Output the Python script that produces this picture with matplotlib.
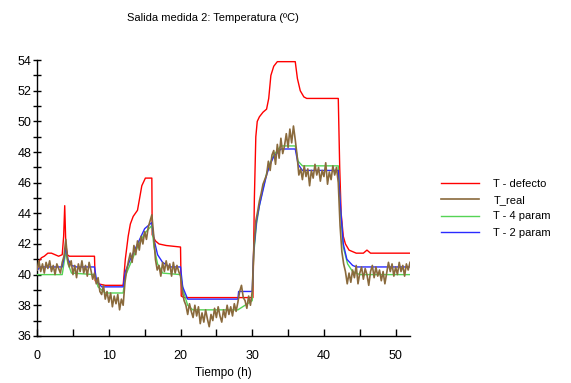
import matplotlib.pyplot as plt
import numpy as np

plt.rcParams['font.family'] = ['Liberation Sans', 'DejaVu Sans']

# T - defecto (red), knots
t_def = [0, 0.3, 0.6, 1.0, 1.5, 2.0, 2.5, 3.0, 3.5, 3.7, 3.85, 4.0, 4.2, 4.5,
         8.0, 8.1, 8.5, 9.5, 12.0, 12.3, 12.7, 13.0, 13.4, 14.0, 14.3, 14.6,
         15.1, 16.0, 16.05, 16.5, 17.0, 18.0, 20.0, 20.1, 20.5, 21.0, 30.1,
         30.3, 30.5, 30.7, 31.0, 31.5, 32.0, 32.3, 32.6, 33.0, 33.5, 36.0,
         36.3, 36.7, 37.2, 37.6, 42.0, 42.2, 42.4, 42.7, 43.0, 43.5, 44.5,
         45.5, 46.0, 46.5, 52.0]
v_def = [40.3, 40.9, 41.1, 41.2, 41.4, 41.4, 41.3, 41.2, 41.3, 42.5, 44.5,
         42.0, 41.3, 41.2, 41.2, 39.6, 39.4, 39.3, 39.3, 41.0, 42.5, 43.3,
         43.8, 44.2, 45.0, 45.8, 46.3, 46.3, 42.6, 42.2, 42.0, 41.9, 41.8,
         38.6, 38.5, 38.5, 38.5, 45.0, 49.0, 50.0, 50.3, 50.6, 50.8, 51.5,
         53.0, 53.6, 53.9, 53.9, 52.8, 52.0, 51.6, 51.5, 51.5, 47.0, 44.0,
         42.5, 42.0, 41.6, 41.4, 41.4, 41.6, 41.4, 41.4]

# T - 2 param (blue)
t_2p = [0, 0.5, 3.5, 3.8, 4.0, 4.3, 4.8, 5.5, 8.0, 8.3, 9.0, 12.0, 12.3, 13.0,
        14.0, 15.0, 16.0, 16.3, 16.8, 17.5, 18.5, 20.0, 20.3, 21.0, 28.0,
        28.1, 30.0, 30.2, 30.6, 31.0, 31.5, 32.0, 32.5, 33.0, 34.0, 36.0,
        36.4, 37.0, 42.0, 42.3, 42.7, 43.2, 44.0, 44.5, 52.0]
v_2p = [40.3, 40.5, 40.5, 41.2, 41.8, 41.0, 40.6, 40.5, 40.5, 39.6, 39.2,
        39.2, 40.2, 41.0, 42.0, 43.0, 43.4, 42.3, 41.3, 40.8, 40.5, 40.5,
        39.2, 38.4, 38.4, 38.9, 38.9, 41.5, 43.5, 44.5, 45.5, 46.5, 47.2,
        47.7, 48.2, 48.2, 47.2, 46.8, 46.8, 44.5, 42.0, 41.0, 40.6, 40.5, 40.5]

# T - 4 param (green)
t_4p = [0, 3.5, 3.8, 4.0, 4.3, 4.8, 8.0, 8.5, 9.5, 12.0, 12.3, 13.0, 14.0,
        15.0, 16.0, 16.3, 16.8, 17.5, 20.0, 20.4, 21.0, 21.7, 28.0, 29.0,
        30.0, 30.2, 30.6, 31.0, 31.5, 32.0, 32.5, 33.0, 34.0, 36.0, 36.4,
        37.0, 42.0, 42.3, 42.7, 43.3, 44.0, 45.0, 52.0]
v_4p = [40.0, 40.0, 40.9, 41.5, 40.7, 40.1, 40.0, 39.2, 38.8, 38.8, 39.9,
        40.7, 41.8, 42.7, 43.2, 41.8, 40.7, 40.1, 40.0, 38.9, 38.0, 37.7,
        37.7, 38.0, 38.3, 41.3, 43.3, 44.5, 45.6, 46.6, 47.3, 47.8, 48.4,
        48.4, 47.4, 47.1, 47.1, 44.3, 41.8, 40.7, 40.2, 40.0, 40.0]

# T_real (brown), one value every 0.25 h
t_real = np.arange(0, 52.01, 0.25)
v_real = [
    40.3, 40.9, 40.2, 40.7, 40.1, 40.8, 40.4, 40.9, 40.2, 40.6, 40.0, 40.7,
    40.4, 40.1, 40.8, 41.2, 42.3, 41.0, 40.5, 40.9, 40.0, 40.6, 39.8, 40.7,
    40.2, 40.9, 40.1, 40.6, 39.9, 40.8, 40.3, 39.7, 40.1, 39.4, 39.8, 38.9,
    38.7, 39.3, 38.4, 38.9, 38.2, 38.8, 37.9, 38.6, 38.1, 38.7, 37.7, 38.4,
    38.0, 39.5, 40.3, 40.9, 41.4, 40.8, 41.9, 41.3, 42.2, 41.6, 42.5, 42.0,
    42.8, 42.3, 43.1, 43.5, 43.9, 42.6, 41.0, 40.3, 40.6, 39.9, 40.8, 40.2,
    40.9, 40.3, 40.7, 39.9, 40.8, 40.1, 40.6, 40.2, 39.9, 38.9, 38.3, 38.0,
    37.4, 38.1, 37.6, 37.2, 38.0, 37.3, 37.9, 36.8, 37.5, 36.9, 37.7, 37.1,
    36.6, 37.4, 37.0, 37.8, 37.2, 37.9, 37.3, 36.9, 37.7, 37.2, 38.0, 37.4,
    37.9, 37.3, 38.1, 37.6, 38.2, 38.9, 39.3, 38.5, 38.3, 37.8, 38.6, 38.0,
    38.9, 42.0, 43.5, 44.1, 44.8, 45.3, 45.9, 46.2, 46.5, 47.4, 46.8, 47.8,
    48.1, 47.2, 48.5, 47.6, 48.9, 47.9, 48.4, 49.2, 48.3, 49.5, 48.6, 49.7,
    48.8, 47.8, 46.5, 46.9, 46.2, 47.1, 46.4, 46.9, 45.8, 46.8, 46.3, 47.2,
    46.5, 47.0, 46.1, 46.8, 46.4, 47.3, 45.9, 46.7, 46.2, 47.1, 46.5, 47.0,
    46.0, 43.2, 41.5, 40.7, 40.2, 39.4, 40.1, 39.5, 40.3, 39.8, 40.6, 39.4,
    40.1, 40.5, 39.7, 40.4, 40.0, 39.3, 40.2, 40.6, 39.8, 40.5, 39.9, 40.3,
    39.6, 40.2, 39.4, 40.1, 40.8, 40.2, 40.7, 39.9, 40.5, 40.0, 40.8, 40.2,
    40.6, 39.9, 40.7, 40.3, 40.8]

fig = plt.figure(figsize=(5.71, 3.83), dpi=100)
ax = fig.add_axes([0.065, 0.123, 0.653, 0.72])

l_def, = ax.plot(t_def, v_def, color='#ff0000', lw=1.0, zorder=2)
l_4p, = ax.plot(t_4p, v_4p, color='#55d455', lw=1.0, zorder=3)
l_2p, = ax.plot(t_2p, v_2p, color='#2a2aff', lw=1.0, zorder=4)
l_real, = ax.plot(t_real, v_real, color='#8a6a3c', lw=1.2, zorder=5)

ax.set_xlim(0, 52)
ax.set_ylim(36, 54)
ax.set_xticks(np.arange(0, 51, 10))
ax.set_xticks(np.arange(0, 52, 5), minor=True)
ax.set_yticks(np.arange(36, 55, 2))
ax.set_yticks(np.arange(36, 55, 1), minor=True)
ax.tick_params(axis='y', which='both', direction='inout', length=6, width=1, labelsize=9, pad=1)
ax.tick_params(axis='x', which='both', direction='in', length=5, width=1, labelsize=9, pad=10)
for s in ['top', 'right']:
    ax.spines[s].set_visible(False)
for s in ['left', 'bottom']:
    ax.spines[s].set_linewidth(1.0)

ax.set_xlabel('Tiempo (h)', fontsize=8.5, labelpad=4)
fig.text(0.373, 0.953, 'Salida medida 2: Temperatura (ºC)', ha='center', va='center', fontsize=8)

fig.legend([l_def, l_real, l_4p, l_2p], ['T - defecto', 'T_real', 'T - 4 param', 'T - 2 param'],
           loc='upper left', bbox_to_anchor=(0.755, 0.56), frameon=False, fontsize=8,
           handlelength=3.4, handletextpad=1.3, labelspacing=0.58)

fig.savefig('out.png', dpi=100)
